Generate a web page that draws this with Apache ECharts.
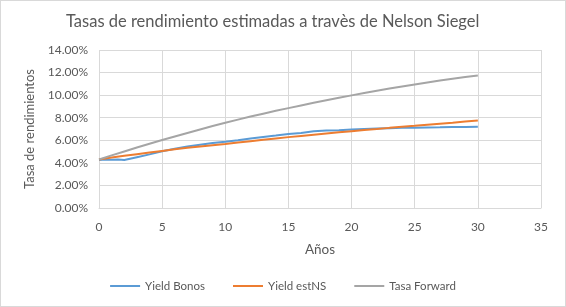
<!DOCTYPE html>
<html>
<head>
<meta charset="utf-8">
<script src="https://cdn.jsdelivr.net/npm/echarts@6/dist/echarts.min.js"></script>
<style>
  html, body { margin: 0; padding: 0; background: #fff; }
  #chart { width: 566px; height: 307px; box-sizing: border-box; border: 1px solid #d9d9d9; }
</style>
</head>
<body>
<div id="chart"></div>
<script>
// Plazos (años) y tasas (%)
const plazosBonos = [0, 0.5, 1, 1.5, 2, 3, 4, 5, 6, 7, 8, 9, 10, 11, 12, 13, 14, 15, 16, 17, 18, 19, 20, 21, 22, 23, 24, 25, 26, 27, 28, 29, 30];
const yieldBonos = [4.25, 4.3, 4.27, 4.3, 4.25, 4.5, 4.75, 5.02, 5.25, 5.45, 5.6, 5.75, 5.87, 6.0, 6.15, 6.3, 6.42, 6.55, 6.65, 6.8, 6.86, 6.9, 6.95, 7.0, 7.04, 7.07, 7.1, 7.12, 7.14, 7.15, 7.17, 7.18, 7.2];

const plazosNS = [0, 1, 2, 3, 4, 5, 6, 7, 8, 9, 10, 11, 12, 13, 14, 15, 16, 17, 18, 19, 20, 21, 22, 23, 24, 25, 26, 27, 28, 29, 30];
const yieldEstNS = [4.3, 4.47, 4.62, 4.77, 4.92, 5.06, 5.2, 5.33, 5.45, 5.57, 5.68, 5.8, 5.92, 6.04, 6.16, 6.28, 6.39, 6.5, 6.61, 6.71, 6.81, 6.91, 7.0, 7.1, 7.19, 7.28, 7.38, 7.47, 7.56, 7.66, 7.76];
const tasaForward = [4.3, 4.66, 5.01, 5.36, 5.69, 6.02, 6.34, 6.65, 6.96, 7.26, 7.55, 7.83, 8.1, 8.36, 8.61, 8.85, 9.09, 9.32, 9.55, 9.77, 9.98, 10.19, 10.39, 10.58, 10.77, 10.95, 11.12, 11.29, 11.45, 11.6, 11.74];

const nombresSeries = ['Yield Bonos', 'Yield estNS', 'Tasa Forward'];
const colores = ['#5B9BD5', '#ED7D31', '#A5A5A5'];

function pares(xs, ys) {
  return xs.map((x, i) => [x, ys[i]]);
}

const chart = echarts.init(document.getElementById('chart'));
const fuente = 'Lato, "Open Sans", sans-serif';

const option = {
  animation: false,
  textStyle: { fontFamily: fuente },
  title: {
    text: 'Tasas de rendimiento estimadas a travès de Nelson Siegel',
    left: 60,
    top: 7,
    textStyle: { fontFamily: fuente, fontSize: 16.5, fontWeight: 'normal', color: '#595959' }
  },
  legend: {
    bottom: 9,
    left: 'center',
    itemGap: 28,
    itemWidth: 30,
    itemHeight: 2,
    icon: 'rect',
    textStyle: { fontFamily: fuente, fontSize: 11.5, color: '#595959' },
    data: nombresSeries
  },
  grid: { left: 98, right: 24, top: 49, bottom: 98 },
  xAxis: {
    type: 'value',
    min: 0, max: 35, interval: 5,
    name: 'Años',
    nameLocation: 'middle',
    nameGap: 35,
    nameTextStyle: { fontFamily: fuente, fontSize: 13.5, color: '#595959' },
    axisLine: { show: true, lineStyle: { color: '#d9d9d9' } },
    axisTick: { show: false },
    axisLabel: { color: '#595959', fontSize: 12, margin: 13 },
    splitLine: { show: true, lineStyle: { color: '#d9d9d9' } }
  },
  yAxis: {
    type: 'value',
    min: 0, max: 14, interval: 2,
    name: 'Tasa de rendimientos',
    nameLocation: 'middle',
    nameGap: 60,
    nameTextStyle: { fontFamily: fuente, fontSize: 13, color: '#595959' },
    axisLine: { show: false },
    axisTick: { show: false },
    axisLabel: { color: '#595959', fontSize: 12, margin: 11, formatter: v => v.toFixed(2) + '%' },
    splitLine: { show: true, lineStyle: { color: '#d9d9d9' } }
  },
  series: [
    { name: nombresSeries[0], type: 'line', data: pares(plazosBonos, yieldBonos) },
    { name: nombresSeries[1], type: 'line', data: pares(plazosNS, yieldEstNS) },
    { name: nombresSeries[2], type: 'line', data: pares(plazosNS, tasaForward) }
  ].map((s, i) => Object.assign(s, {
    showSymbol: false,
    symbol: 'none',
    color: colores[i],
    lineStyle: { width: 2, color: colores[i] }
  }))
};

chart.setOption(option);
</script>
</body>
</html>
